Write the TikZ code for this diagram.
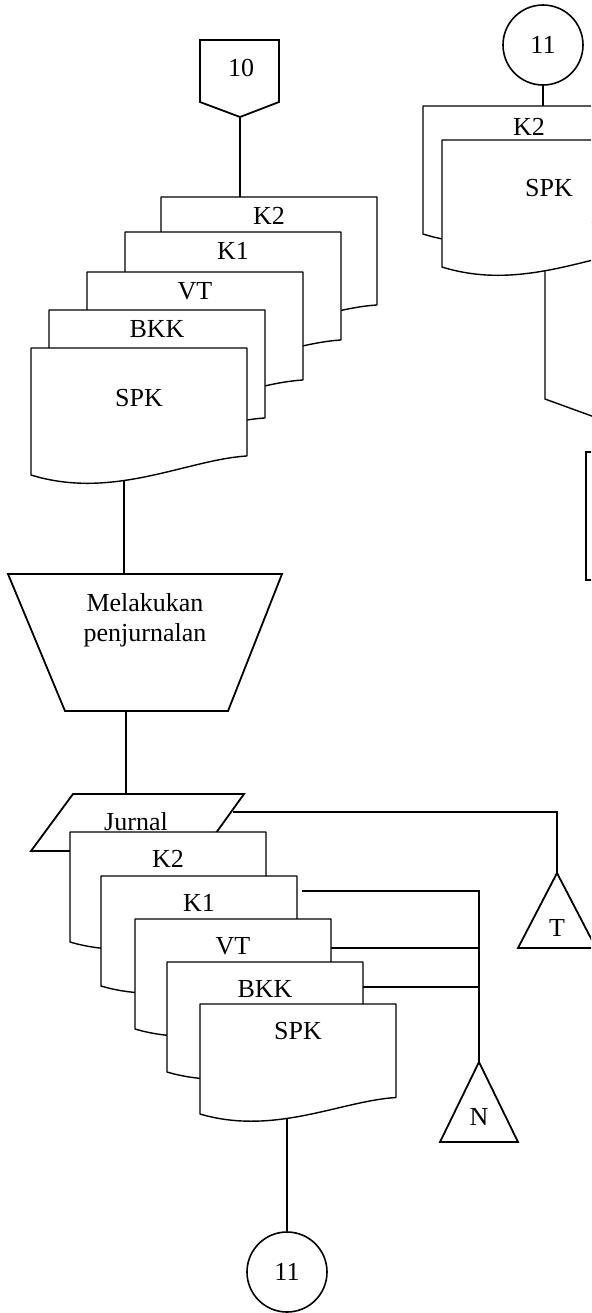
\documentclass[tikz,border=0pt]{standalone}
\usepackage{fontspec}
\setmainfont{Liberation Serif}
\usetikzlibrary{backgrounds}
\tikzset{
  docu/.style={draw, fill=white, line width=0.7pt, line join=round},
  term/.style={draw, fill=white, line width=0.9pt},
  flow/.style={line width=0.7pt},
  lbl/.style={inner sep=0pt, font=\fontsize{13}{15}\selectfont},
  konektor/.style={circle, draw, fill=white, line width=0.8pt, minimum size=40pt,
    inner sep=0pt, font=\fontsize{13}{15}\selectfont},
}
% document symbol: name, left, top, width, height, label, label drop
\newcommand{\dok}[7]{%
  \begin{scope}[shift={(#2,#3)}]
    \filldraw[docu] (0,0) -- (#4,0) -- (#4,{0.85*#5})
      .. controls ({0.72*#4},{0.88*#5}) and ({0.38*#4},{1.2*#5}) .. (0,#5) -- cycle;
    \coordinate (#1-nw) at (0,0);
    \coordinate (#1-ne) at (#4,0);
    \node[lbl] (#1) at ({#4/2},#7) {#6};
  \end{scope}
}
% file symbol: name, apex x, apex y, height, label
\newcommand{\segitiga}[5]{%
  \filldraw[term] (#2,#3) coordinate (#1) -- ++(39,#4) -- ++(-78,0) -- cycle;
  \node[lbl] (#1-lab) at (#2,{#3+55}) {#5};
}

\begin{document}
\begin{tikzpicture}[x=0.5pt,y=-0.5pt]
  \useasboundingbox (0,0) rectangle (591,1313);
  \clip (0,0) rectangle (591,1313);

  % left column
  \filldraw[term] (200,40) -- (279,40) -- (279,102) -- (240,117) coordinate (ten-tip)
    -- (200,102) -- cycle;
  \node[lbl] (ten) at (241,68) {10};
  \foreach \n/\a/\b/\l/\d in {k2a/161/197/K2/19, k1a/125/232/K1/19, vta/87/272/VT/19,
      bkka/49/310/BKK/19, spka/31/348/SPK/50}
    \dok{\n}{\a}{\b}{216}{127}{\l}{\d};

  \filldraw[term] (8,574) -- (282,574) -- (228,711) -- (65,711) -- cycle;
  \coordinate (proc-in) at (124,574);
  \coordinate (proc-out) at (126,711);
  \node[lbl, align=center] (proc) at (145,620) {Melakukan\\penjurnalan};

  \filldraw[term] (73,794) -- (244,794) -- (203,851) -- (31,851) -- cycle;
  \coordinate (jur-n) at (126,794);
  \coordinate (jur-e) at (233,812);
  \node[lbl] (jur) at (136,822) {Jurnal};
  \foreach \n/\a/\b/\l in {k2b/70/832/K2, k1b/101/876/K1, vtb/135/919/VT,
      bkkb/167/962/BKK, spkb/200/1004/SPK}
    \dok{\n}{\a}{\b}{196}{110}{\l}{27};

  \segitiga{tT}{557}{873}{75}{T}
  \segitiga{nN}{479}{1062}{80}{N}
  \node[konektor] (c11b) at (287,1272) {11};

  % right column
  \node[konektor] (c11a) at (543,45) {11};
  \dok{k2c}{423}{106}{212}{128}{K2}{21}
  \dok{spkc}{442}{140}{214}{127}{SPK}{48}
  \coordinate (spkc-out) at (545,399);
  \coordinate (lanjut) at (600,419);
  \node[term, anchor=north west, minimum width=40pt, minimum height=64pt] (kotak)
    at (585,451) {};

  \begin{scope}[on background layer]
    \draw[flow] (ten-tip) -- (ten-tip |- k2a-nw);
    \draw[flow] (proc-in) -- (proc-in |- spka);
    \draw[flow] (proc-out) -- (proc-out |- jur-n);
    \draw[flow] (jur-e) -| (tT);
    \path (k1b-ne) ++(5,15) coordinate (k1-out);
    \path (vtb-ne) ++(0,29) coordinate (vt-out);
    \path (bkkb-ne) ++(0,25) coordinate (bkk-out);
    \draw[flow] (k1-out) -- (k1-out -| nN) -- (nN);
    \draw[flow] (vt-out) -- (vt-out -| nN);
    \draw[flow] (bkk-out) -- (bkk-out -| nN);
    \draw[flow] (c11b.north) -- (c11b.north |- spkb);
    \draw[flow] (c11a.south) -- (c11a.south |- k2c-nw);
    \draw[flow] (spkc-out |- spkc) -- (spkc-out) -- (lanjut);
  \end{scope}
\end{tikzpicture}
\end{document}
